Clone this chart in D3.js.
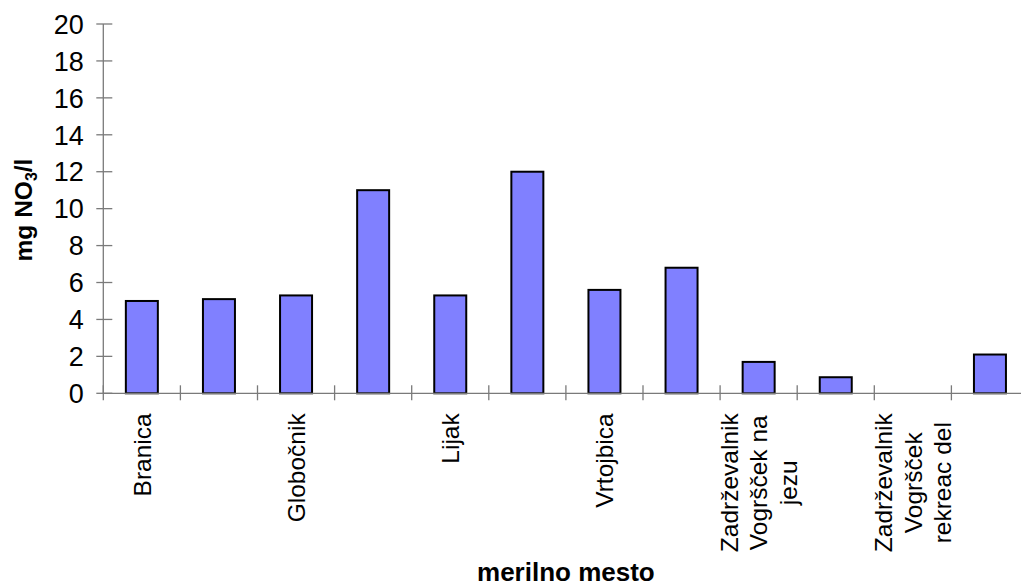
<!DOCTYPE html>
<html>
<head>
<meta charset="utf-8">
<script src="https://cdn.jsdelivr.net/npm/d3@7"></script>
<style>
  html, body { margin: 0; padding: 0; background: #fff; }
  svg { display: block; }
  text { font-family: "Liberation Sans", Arial, Helvetica, sans-serif; fill: #000; }
</style>
</head>
<body>
<svg id="chart" width="1021" height="586"></svg>
<script>
// ---- data ----
const categories = [
  "Branica", "", "Globočnik", "", "Lijak", "", "Vrtojbica", "",
  "Zadrževalnik\nVogršček na\njezu", "", "Zadrževalnik\nVogršček\nrekreac del", ""
];
const values = [5.0, 5.1, 5.3, 11.0, 5.3, 12.0, 5.6, 6.8, 1.7, 0.87, null, 2.1];
const yTicks = [0, 2, 4, 6, 8, 10, 12, 14, 16, 18, 20];
const yTitle = "mg NO";
const yTitleSub = "3";
const yTitleTail = "/l";
const xTitle = "merilno mesto";

// ---- layout ----
const mLeft = 103.3, mRight = 1028.5, mTop = 24, mBottom = 393.3;
const svg = d3.select("#chart");

const idx = categories.map((d, i) => i);
const slot = d3.scaleBand().domain(idx).range([mLeft, mRight]).padding(0);
const xBar = d3.scaleBand().domain(idx).range([mLeft, mRight])
  .paddingInner(0.585).paddingOuter(0.2925);
const y = d3.scaleLinear().domain([0, 20]).range([mBottom, mTop]);

const axisColor = "#7a7a7a";

// bars
svg.append("g").selectAll("rect")
  .data(values.map((v, i) => ({ v, i })).filter(d => d.v != null))
  .join("rect")
  .attr("x", d => xBar(d.i))
  .attr("y", d => y(d.v))
  .attr("width", xBar.bandwidth())
  .attr("height", d => y(0) - y(d.v))
  .attr("fill", "#8080ff")
  .attr("stroke", "#000")
  .attr("stroke-width", 2);

// y axis
const yAxis = svg.append("g");
yAxis.append("line")
  .attr("x1", mLeft).attr("x2", mLeft)
  .attr("y1", y(20)).attr("y2", y(0))
  .attr("stroke", axisColor).attr("stroke-width", 1.3);
yAxis.selectAll("line.tick").data(yTicks).join("line")
  .attr("class", "tick")
  .attr("x1", mLeft - 7).attr("x2", mLeft + 9)
  .attr("y1", d => y(d)).attr("y2", d => y(d))
  .attr("stroke", axisColor).attr("stroke-width", 1.3);
yAxis.selectAll("text").data(yTicks).join("text")
  .attr("x", mLeft - 19.5)
  .attr("y", d => y(d))
  .attr("dy", "0.36em")
  .attr("text-anchor", "end")
  .style("font-size", "27px")
  .text(d => d);

// x axis
const xAxis = svg.append("g");
xAxis.append("line")
  .attr("x1", mLeft).attr("x2", mRight)
  .attr("y1", y(0)).attr("y2", y(0))
  .attr("stroke", axisColor).attr("stroke-width", 1.3);
const bounds = idx.map(i => slot(i)).concat([mRight]);
xAxis.selectAll("line.tick").data(bounds).join("line")
  .attr("class", "tick")
  .attr("x1", d => d).attr("x2", d => d)
  .attr("y1", y(0) - 8).attr("y2", y(0) + 7)
  .attr("stroke", axisColor).attr("stroke-width", 1.3);

// category labels (rotated, lines centred within block, block top aligned)
const lineH = 29.5;
categories.forEach((c, i) => {
  if (!c) return;
  const lines = c.split("\n");
  const cx = slot(i) + slot.bandwidth() / 2;
  const g = svg.append("g")
    .attr("transform", `translate(${cx},${y(0) + 20}) rotate(-90)`);
  const texts = g.selectAll("text").data(lines).join("text")
    .style("font-size", "24.5px")
    .attr("text-anchor", "middle")
    .attr("y", (d, k) => (k - (lines.length - 1) / 2) * lineH)
    .attr("dy", "0.36em")
    .text(d => d);
  let maxW = 0;
  texts.each(function () { maxW = Math.max(maxW, this.getComputedTextLength()); });
  texts.attr("x", -maxW / 2);
});

// x title
svg.append("text")
  .attr("x", (mLeft + mRight) / 2)
  .attr("y", 581)
  .attr("text-anchor", "middle")
  .style("font-size", "26px")
  .style("font-weight", "bold")
  .text(xTitle);

// y title
const yt = svg.append("text")
  .attr("transform", `translate(32,210) rotate(-90)`)
  .attr("text-anchor", "middle")
  .style("font-size", "24.5px")
  .style("font-weight", "bold");
yt.append("tspan").text(yTitle);
yt.append("tspan").attr("dy", "0.3em").style("font-size", "16px").text(yTitleSub);
yt.append("tspan").attr("dy", "-0.2em").text(yTitleTail);
</script>
</body>
</html>
